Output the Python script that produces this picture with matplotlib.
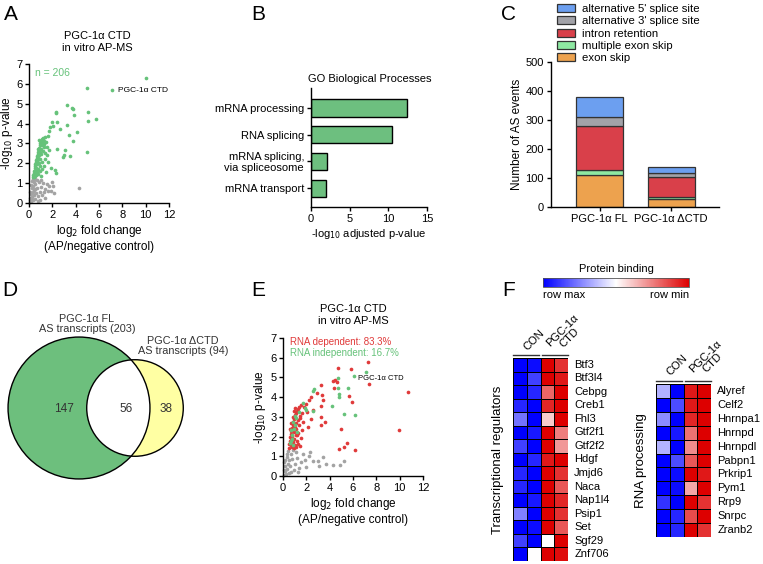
import numpy as np
import matplotlib
matplotlib.use("Agg")
import matplotlib.pyplot as plt
from matplotlib.patches import Circle
from matplotlib.colors import LinearSegmentedColormap, Normalize
from matplotlib.cm import ScalarMappable

plt.rcParams['font.family'] = ['Liberation Sans', 'DejaVu Sans']
plt.rcParams['font.size'] = 8
plt.rcParams['axes.linewidth'] = 1.0
plt.rcParams['xtick.major.width'] = 1.0
plt.rcParams['ytick.major.width'] = 1.0
plt.rcParams['xtick.major.size'] = 3
plt.rcParams['ytick.major.size'] = 3

# =========================================================
# DATA
# =========================================================

# panel A: in vitro AP-MS, (log2 FC, -log10 p)
a_green = [
    (10.06, 6.27), (4.97, 5.77), (7.11, 5.69), (3.26, 4.93), (3.66, 4.80), (3.74, 4.73),
    (2.31, 4.56), (2.29, 4.51), (5.03, 4.56), (3.89, 4.45), (5.09, 4.13), (5.71, 4.24),
    (1.94, 4.09), (2.37, 4.09), (2.06, 3.88), (3.23, 3.93), (4.14, 3.57), (1.77, 3.84),
    (2.63, 3.72), (1.74, 3.64), (3.46, 3.41), (3.77, 3.14), (1.60, 3.37), (1.37, 3.31),
    (1.23, 3.17), (1.09, 3.24), (1.43, 3.09), (3.11, 2.65), (2.37, 2.70), (3.00, 2.43),
    (2.89, 2.32), (3.51, 2.38), (5.00, 2.57), (1.74, 2.67), (1.54, 2.80), (1.29, 2.84),
    (1.66, 2.08), (1.86, 1.74), (2.26, 1.64), (2.34, 1.49), (1.49, 1.58), (1.26, 1.86),
    (0.32, 1.30), (0.36, 1.42), (0.40, 1.52), (0.42, 1.38), (0.45, 1.62), (0.48, 1.75),
    (0.50, 1.48), (0.52, 1.88), (0.55, 1.98), (0.56, 1.62), (0.58, 2.08), (0.60, 1.78),
    (0.62, 2.18), (0.64, 1.52), (0.66, 2.28), (0.68, 1.95), (0.70, 2.38), (0.72, 2.10),
    (0.75, 2.48), (0.76, 1.70), (0.78, 2.25), (0.80, 2.58), (0.82, 2.02), (0.84, 2.68),
    (0.86, 2.40), (0.88, 2.78), (0.90, 1.85), (0.92, 2.55), (0.94, 2.90), (0.96, 2.20),
    (0.98, 3.00), (1.00, 2.70), (1.02, 3.08), (1.05, 2.45), (1.08, 3.15), (1.10, 2.90),
    (1.12, 2.05), (1.15, 3.05), (1.18, 2.60), (1.20, 3.25), (1.25, 2.95), (1.30, 3.10),
    (1.35, 2.50), (0.60, 1.40), (0.70, 1.55), (0.80, 1.45), (0.95, 1.60), (1.00, 1.35),
    (1.10, 1.70), (0.45, 1.30), (0.55, 1.35), (0.65, 1.72), (0.85, 2.20), (0.74, 2.70),
    (0.88, 3.15), (1.40, 2.20), (1.55, 2.40),
]
a_gray = [
    (4.29, 0.77), (2.17, 0.49), (1.95, 1.05), (1.75, 0.85), (1.55, 0.95), (1.65, 0.62),
    (1.35, 0.72), (1.20, 1.00), (1.05, 0.82), (0.95, 0.55), (0.85, 1.05), (0.80, 0.35),
    (0.70, 0.75), (0.65, 1.15), (0.60, 0.50), (0.55, 0.95), (0.50, 0.20), (0.48, 1.22),
    (0.45, 0.65), (0.40, 0.40), (0.40, 1.05), (0.35, 0.85), (0.32, 0.15), (0.30, 0.55),
    (0.28, 1.10), (0.25, 0.30), (0.22, 0.75), (0.20, 0.10), (0.18, 0.45), (0.15, 0.90),
    (0.12, 0.25), (0.10, 0.05), (0.08, 0.55), (1.10, 0.40), (1.40, 0.25), (0.90, 0.15),
    (1.25, 0.55), (1.85, 0.60), (0.75, 0.10), (0.55, 0.70), (0.35, 1.20), (1.00, 1.15),
    (2.05, 0.85), (0.15, 0.20), (0.05, 0.15),
]
a_label_point = (7.11, 5.69)

# panel B: GO terms
go_terms = ["mRNA processing", "RNA splicing", "mRNA splicing,\nvia spliceosome", "mRNA transport"]
go_values = [12.4, 10.5, 2.1, 2.0]

# panel C: AS events (stacked, bottom to top)
as_groups = ["PGC-1α FL", "PGC-1α ΔCTD"]
as_types = ["exon skip", "multiple exon skip", "intron retention",
            "alternative 3' splice site", "alternative 5' splice site"]
as_counts = {
    "exon skip": [109, 29],
    "multiple exon skip": [20, 5],
    "intron retention": [149, 69],
    "alternative 3' splice site": [32, 14],
    "alternative 5' splice site": [69, 21],
}

# panel D: venn
venn_fl_total = 203
venn_dctd_total = 94
venn_overlap = 56

# panel E: RNA dependence
e_red = [
    (7.26, 5.80), (4.74, 5.50), (5.86, 5.43), (7.37, 4.67), (10.74, 4.25), (9.97, 2.34),
    (3.26, 4.62), (4.26, 4.82), (4.49, 4.87), (4.60, 4.79), (4.37, 4.45), (2.91, 4.20),
    (2.43, 3.99), (3.31, 4.11), (2.20, 3.86), (3.40, 3.84), (5.69, 4.08), (5.91, 3.74),
    (1.94, 3.65), (1.77, 3.52), (2.54, 3.37), (3.23, 3.57), (2.03, 3.27), (2.40, 2.89),
    (3.29, 3.01), (3.26, 2.59), (3.57, 2.73), (4.97, 2.39), (4.80, 1.37), (5.23, 1.45),
    (5.51, 1.66), (6.14, 1.32), (1.46, 2.93), (2.17, 2.50), (1.17, 2.08),
    (0.50, 1.40), (0.55, 1.60), (0.58, 1.80), (0.62, 2.00), (0.65, 1.55), (0.68, 2.15),
    (0.70, 1.85), (0.72, 2.30), (0.75, 1.45), (0.78, 2.45), (0.80, 2.05), (0.82, 2.60),
    (0.85, 1.70), (0.88, 2.75), (0.90, 2.25), (0.92, 2.90), (0.95, 1.90), (0.98, 3.00),
    (1.00, 2.50), (1.02, 1.55), (1.05, 3.10), (1.08, 2.70), (1.10, 2.10), (1.12, 3.20),
    (1.15, 2.40), (1.18, 3.30), (1.20, 1.80), (1.25, 3.40), (1.28, 2.85), (1.30, 2.20),
    (1.35, 3.50), (1.40, 2.60), (1.45, 3.05), (1.50, 1.95), (1.55, 3.60), (1.60, 2.35),
    (1.65, 3.20), (1.70, 2.75), (0.60, 2.40), (0.72, 2.70), (0.85, 3.00), (0.95, 1.40),
    (1.10, 1.45), (1.30, 1.60), (1.45, 1.50), (0.90, 3.30), (1.00, 3.45),
]
e_green = [
    (7.10, 5.28), (6.06, 5.05), (4.74, 4.96), (4.77, 4.15), (4.77, 4.03), (4.71, 4.45),
    (5.60, 4.45), (4.23, 3.57), (5.26, 3.16), (6.20, 3.10), (2.66, 4.43), (2.60, 4.31),
    (1.74, 3.69), (0.89, 2.76), (1.03, 2.59), (0.69, 1.78), (1.23, 2.25), (1.90, 3.45),
    (2.00, 3.35), (1.15, 2.95), (0.80, 2.10), (0.75, 1.90), (0.95, 2.40), (1.40, 3.25),
    (0.60, 1.65), (0.85, 1.55), (2.55, 3.30), (1.05, 3.05), (0.70, 2.35),
]
e_gray = [
    (5.20, 0.75), (4.90, 0.55), (4.30, 0.55), (3.70, 0.60), (3.40, 0.95), (3.00, 0.75),
    (2.60, 0.75), (2.20, 1.00), (2.30, 1.20), (1.90, 0.80), (1.70, 1.10), (1.50, 0.70),
    (1.20, 0.90), (1.00, 0.60), (3.05, 0.50), (1.40, 0.40), (1.10, 1.20), (0.90, 0.30),
    (0.80, 0.85), (0.70, 1.10), (0.60, 0.50), (0.55, 0.80), (0.50, 0.15), (0.45, 1.25),
    (0.40, 0.60), (0.35, 0.35), (0.30, 0.95), (0.25, 0.10), (0.20, 0.50), (0.15, 0.25),
    (0.10, 0.70), (0.08, 0.05), (0.05, 0.30), (0.65, 0.20), (1.30, 0.20), (2.00, 0.45),
    (0.85, 1.30), (0.35, 1.10), (0.18, 0.80),
]
e_label_point = (6.06, 5.05)

# panel F: heatmaps (-1 = row max / blue, 1 = row min / red), columns CON, CON, CTD, CTD
tr_genes = ["Btf3", "Btf3l4", "Cebpg", "Creb1", "Fhl3", "Gtf2f1", "Gtf2f2", "Hdgf",
            "Jmjd6", "Naca", "Nap1l4", "Psip1", "Set", "Sgf29", "Znf706"]
tr_values = [
    [-1.00, -0.95, 1.00, 0.80],
    [-1.00, -0.75, 1.00, 0.90],
    [-1.00, -0.85, 0.60, 1.00],
    [-0.85, -1.00, 0.85, 1.00],
    [-0.55, -1.00, 0.20, 1.00],
    [-1.00, -0.90, 1.00, 0.50],
    [-0.75, -1.00, 1.00, 0.40],
    [-1.00, -0.85, 0.90, 1.00],
    [-0.85, -1.00, 1.00, 0.80],
    [-0.85, -1.00, 1.00, 0.65],
    [-1.00, -0.90, 1.00, 0.85],
    [-0.50, -1.00, 1.00, 0.80],
    [-1.00, -0.95, 1.00, 0.65],
    [-0.75, -1.00, 0.00, 1.00],
    [-1.00, 0.00, 1.00, 0.95],
]
rp_genes = ["Alyref", "Celf2", "Hnrnpa1", "Hnrnpd", "Hnrnpdl", "Pabpn1", "Prkrip1",
            "Pym1", "Rrp9", "Snrpc", "Zranb2"]
rp_values = [
    [-0.30, -1.00, 0.90, 1.00],
    [-1.00, -0.70, 0.90, 1.00],
    [-0.45, -1.00, 0.85, 1.00],
    [-1.00, -0.90, 0.55, 1.00],
    [-0.30, -1.00, 0.45, 1.00],
    [-1.00, -0.70, 0.65, 1.00],
    [-1.00, -0.95, 1.00, 0.90],
    [-1.00, -0.95, 0.35, 1.00],
    [-0.80, -1.00, 1.00, 0.80],
    [-1.00, -0.85, 0.70, 1.00],
    [-1.00, -0.85, 1.00, 0.80],
]

# =========================================================
# STYLE
# =========================================================

W, H = 763, 564
GREEN = "#66c27a"
GRAY = "#a3a3a3"
RED = "#e03a3a"
as_colors = {
    "exon skip": "#eda24e",
    "multiple exon skip": "#8ee9a2",
    "intron retention": "#d9404a",
    "alternative 3' splice site": "#a2a2a8",
    "alternative 5' splice site": "#6c9ff0",
}
heat_cmap = LinearSegmentedColormap.from_list("protbind", ["#0000ff", "#ffffff", "#dd0000"])


def box(l, t, r, b):
    # pixel box -> figure fraction rect
    return [l / W, 1 - b / H, (r - l) / W, (b - t) / H]


def clean(ax):
    ax.spines['top'].set_visible(False)
    ax.spines['right'].set_visible(False)
    ax.tick_params(direction='out', labelsize=8, pad=2)


fig = plt.figure(figsize=(W / 100, H / 100), dpi=100)

ov = fig.add_axes([0, 0, 1, 1])
ov.set_xlim(0, W)
ov.set_ylim(H, 0)
ov.axis('off')

for letter, (lx, ly) in zip("ABCDEF", [(11, 15), (258, 15), (508, 15),
                                       (10, 291), (258, 291), (509, 291)]):
    ov.text(lx, ly, letter, fontsize=15, ha='center', va='center')

# =========================================================
# A
# =========================================================

axA = fig.add_axes(box(29, 64, 169, 203))
ga = np.array(a_green)
gr = np.array(a_gray)
axA.scatter(gr[:, 0], gr[:, 1], s=7, color=GRAY, linewidths=0, clip_on=False)
axA.scatter(ga[:, 0], ga[:, 1], s=7, color=GREEN, linewidths=0, clip_on=False)
axA.text(0.5, 6.55, "n = 206", color=GREEN, fontsize=7.5, va='center')
axA.text(a_label_point[0] + 0.5, a_label_point[1], "PGC-1α CTD", fontsize=6, va='center')
axA.set_xlim(0, 12)
axA.set_ylim(0, 7)
axA.set_xticks(range(0, 13, 2))
axA.set_yticks(range(0, 8))
axA.set_xlabel("log$_2$ fold change\n(AP/negative control)", fontsize=8.5, labelpad=2,
               linespacing=1.3)
axA.set_ylabel("-log$_{10}$ p-value", fontsize=8.5)
clean(axA)
axA.tick_params(axis='y', pad=1.5)
axA.yaxis.set_label_coords(-0.098, 0.5)
ov.text(97, 42, "PGC-1α CTD\nin vitro AP-MS", fontsize=8, ha='center', va='center',
        linespacing=1.2)

# =========================================================
# B
# =========================================================

axB = fig.add_axes(box(311, 88, 427, 207))
yb = np.arange(len(go_terms))
axB.barh(yb, go_values, height=0.64, color="#6dbf7f", edgecolor="black", linewidth=1)
axB.set_yticks(yb)
axB.set_yticklabels(go_terms, fontsize=8, linespacing=1.05)
axB.set_ylim(len(go_terms) - 1 + 0.71, -0.75)
axB.set_xlim(0, 15)
axB.set_xticks([0, 5, 10, 15])
axB.set_xlabel("-log$_{10}$ adjusted p-value", fontsize=8, labelpad=2)
clean(axB)
ov.text(370, 79, "GO Biological Processes", fontsize=8, ha='center', va='center')

# =========================================================
# C
# =========================================================

axC = fig.add_axes(box(551, 62, 719, 207))
xc = np.arange(len(as_groups))
bottom = np.zeros(len(as_groups))
handles = {}
for t in as_types:
    vals = np.array(as_counts[t])
    handles[t] = axC.bar(xc, vals, bottom=bottom, width=0.66, color=as_colors[t],
                         edgecolor="#333333", linewidth=0.9)
    bottom += vals
axC.set_xlim(-0.68, 1.67)
axC.set_ylim(0, 500)
axC.set_yticks(range(0, 501, 100))
axC.set_xticks(xc)
axC.set_xticklabels(as_groups, fontsize=8)
axC.set_ylabel("Number of AS events", fontsize=8.5, labelpad=2)
clean(axC)
leg_order = as_types[::-1]
fig.legend([handles[t] for t in leg_order], leg_order, loc='upper left',
           bbox_to_anchor=(549 / W, 1 + 4 / H), frameon=False, fontsize=8.2,
           handlelength=1.6, handleheight=0.7, labelspacing=0.2, handletextpad=0.6,
           borderpad=0.2)

# =========================================================
# D  (venn, radius ~ sqrt(count))
# =========================================================

k = 4.98
r_fl = k * np.sqrt(venn_fl_total)
r_dc = k * np.sqrt(venn_dctd_total)
c_fl = (79, 408)
c_dc = (135, 408)
yellow = Circle(c_dc, r_dc, facecolor="#ffffa3", edgecolor='none')
green = Circle(c_fl, r_fl, facecolor="#6dbf7d", edgecolor='none')
ov.add_patch(yellow)
ov.add_patch(green)
lens = Circle(c_dc, r_dc, facecolor="white", edgecolor='none')
ov.add_patch(lens)
lens.set_clip_path(green)
ov.add_patch(Circle(c_fl, r_fl, facecolor='none', edgecolor='black', linewidth=1))
ov.add_patch(Circle(c_dc, r_dc, facecolor='none', edgecolor='black', linewidth=1))
ov.text(64, 409, str(venn_fl_total - venn_overlap), fontsize=8.5, color="#333333", ha='center', va='center')
ov.text(126, 409, str(venn_overlap), fontsize=8.5, color="#333333", ha='center', va='center')
ov.text(166, 409, str(venn_dctd_total - venn_overlap), fontsize=8.5, color="#333333", ha='center', va='center')
ov.text(87, 324, "PGC-1α FL\nAS transcripts (%d)" % venn_fl_total, fontsize=7.8,
        color="#333333", ha='center', va='center', linespacing=1.1)
ov.text(183, 346, "PGC-1α ΔCTD\nAS transcripts (%d)" % venn_dctd_total, fontsize=7.8,
        color="#333333", ha='center', va='center', linespacing=1.1)

# =========================================================
# E
# =========================================================

axE = fig.add_axes(box(283, 338, 423, 476))
eg = np.array(e_gray)
er = np.array(e_red)
ee = np.array(e_green)
axE.scatter(eg[:, 0], eg[:, 1], s=7, color=GRAY, linewidths=0, clip_on=False)
axE.scatter(er[:, 0], er[:, 1], s=7, color=RED, linewidths=0, clip_on=False)
axE.scatter(ee[:, 0], ee[:, 1], s=7, color=GREEN, linewidths=0, clip_on=False)
axE.text(0.6, 6.8, "RNA dependent: 83.3%", color=RED, fontsize=7, va='center')
axE.text(0.6, 6.22, "RNA independent: 16.7%", color=GREEN, fontsize=7, va='center')
axE.text(e_label_point[0] + 0.35, e_label_point[1] - 0.08, "PGC-1α CTD", fontsize=5.5, va='center')
axE.set_xlim(0, 12)
axE.set_ylim(0, 7)
axE.set_xticks(range(0, 13, 2))
axE.set_yticks(range(0, 8))
axE.set_xlabel("log$_2$ fold change\n(AP/negative control)", fontsize=8.5, labelpad=2,
               linespacing=1.3)
axE.set_ylabel("-log$_{10}$ p-value", fontsize=8.5)
clean(axE)
axE.tick_params(axis='y', pad=1.5)
axE.yaxis.set_label_coords(-0.11, 0.5)
ov.text(353, 315, "PGC-1α CTD\nin vitro AP-MS", fontsize=8, ha='center', va='center',
        linespacing=1.2)

# =========================================================
# F
# =========================================================

def draw_heat(rect, genes, values, group):
    ax = fig.add_axes(rect)
    v = np.array(values)
    ax.pcolormesh(v, cmap=heat_cmap, vmin=-1, vmax=1, edgecolors='black', linewidth=0.6)
    ax.set_xlim(0, 4)
    ax.set_ylim(len(genes), 0)
    ax.axis('off')
    for i, g in enumerate(genes):
        ax.text(4.45, i + 0.5, g, fontsize=8, va='center', ha='left')
    ax.plot([0, 1.9], [-0.22, -0.22], color='#333333', lw=1, clip_on=False)
    ax.plot([2.1, 4], [-0.22, -0.22], color='#333333', lw=1, clip_on=False)
    ax.text(1.5, -1.35, "CON", rotation=45, fontsize=8, ha='center', va='center')
    ax.text(3.85, -1.75, "PGC-1α\nCTD", rotation=45, fontsize=8, ha='center', va='center',
            linespacing=1.0)
    ax.text(-1.1, len(genes) / 2, group, rotation=90, fontsize=9.5, ha='center', va='center')
    return ax


draw_heat(box(513, 358, 568, 561), tr_genes, tr_values, "Transcriptional regulators")
draw_heat(box(656, 384, 711, 537), rp_genes, rp_values, "RNA processing")

cax = fig.add_axes(box(543, 278, 689, 287))
cb = fig.colorbar(ScalarMappable(norm=Normalize(-1, 1), cmap=heat_cmap), cax=cax,
                  orientation='horizontal')
cb.set_ticks([])
cb.outline.set_linewidth(0.6)
cb.outline.set_edgecolor('#555555')
ov.text(616, 269, "Protein binding", fontsize=8, ha='center', va='center')
ov.text(543, 295, "row max", fontsize=8, ha='left', va='center')
ov.text(689, 295, "row min", fontsize=8, ha='right', va='center')

fig.savefig("out.png", dpi=100)
